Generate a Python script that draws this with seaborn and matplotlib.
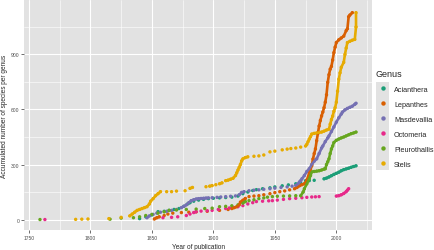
import pandas as pd
import matplotlib
matplotlib.use("Agg")
import matplotlib.pyplot as plt
from matplotlib.patches import Rectangle
from matplotlib.ticker import MultipleLocator
import seaborn as sns

# Accumulated species per genus
genera = ["Acianthera", "Lepanthes", "Masdevallia", "Octomeria", "Pleurothallis", "Stelis"]
colours = ["#1B9E77", "#D95F02", "#7570B3", "#E7298A", "#66A61E", "#E6AB02"]

acianthera_years = [1840, 1845, 1850, 1855, 1860, 1864, 1868, 1872, 1876, 1879, 1881, 1884, 1888,
                    1892, 1896, 1900, 1905, 1910, 1915, 1920, 1924, 1928, 1932, 1935, 1940, 1946,
                    1950, 1956, 1961, 1967, 1971, 1975, 1978, 1982, 1990, 1992, 1994, 1996, 1998,
                    2000, 2002, 2004, 2006, 2008, 2010, 2012, 2014, 2016]
acianthera_counts = [5, 15, 25, 43, 45, 50, 55, 60, 72, 85, 92, 100, 106,
                     110, 114, 116, 118, 120, 122, 128, 141, 150, 158, 163, 168, 173,
                     178, 184, 189, 195, 202, 212, 212, 214, 222, 226, 232, 239, 246,
                     252, 258, 266, 272, 276, 280, 285, 289, 293]

lepanthes_years = [1852, 1854, 1856, 1860, 1863, 1867, 1874, 1880, 1886, 1895, 1905, 1912, 1915,
                   1917, 1919, 1921, 1922, 1924, 1926, 1929, 1933, 1937, 1941, 1946, 1950, 1954,
                   1958, 1962, 1966, 1968, 1970, 1972, 1974, 1976, 1978, 1979, 1980, 1981, 1982,
                   1983, 1984, 1985, 1986, 1987, 1988, 1989, 1990, 1991, 1992, 1993, 1994, 1995,
                   1996, 1997, 1998, 1999, 2000, 2002, 2004, 2006, 2008, 2009, 2010, 2011, 2013]
lepanthes_counts = [3, 10, 15, 22, 30, 35, 38, 40, 42, 45, 50, 55, 60,
                    65, 70, 80, 95, 105, 115, 125, 128, 130, 135, 141, 147, 152,
                    156, 162, 168, 175, 184, 190, 195, 215, 255, 275, 293, 330, 360,
                    385, 430, 470, 510, 540, 565, 586, 610, 640, 680, 748, 790, 820,
                    835, 870, 910, 940, 965, 980, 990, 1000, 1030, 1040, 1106, 1115, 1128]

masdevallia_years = [1846, 1848, 1851, 1854, 1857, 1862, 1866, 1870, 1874, 1876, 1878, 1880, 1882,
                     1884, 1886, 1888, 1890, 1892, 1894, 1896, 1899, 1903, 1906, 1910, 1914, 1918,
                     1921, 1923, 1925, 1929, 1933, 1937, 1941, 1946, 1950, 1955, 1960, 1964, 1967,
                     1969, 1970, 1971, 1972, 1974, 1976, 1978, 1980, 1982, 1984, 1986, 1988, 1989,
                     1991, 1993, 1994, 1996, 1998, 2000, 2002, 2004, 2005, 2007, 2009, 2011, 2013,
                     2015, 2016]
masdevallia_counts = [10, 20, 28, 35, 40, 45, 50, 55, 65, 72, 80, 92, 103,
                      108, 112, 114, 115, 116, 117, 118, 119, 121, 123, 125, 127, 129,
                      135, 148, 152, 157, 160, 162, 165, 168, 171, 175, 178, 182, 186,
                      195, 205, 212, 222, 240, 262, 277, 300, 318, 331, 360, 390, 401,
                      425, 445, 456, 480, 505, 531, 555, 575, 586, 598, 606, 612, 618,
                      628, 634]

octomeria_years = [1763, 1859, 1866, 1871, 1878, 1881, 1884, 1886, 1890, 1895, 1899, 1904, 1910,
                   1913, 1916, 1920, 1924, 1928, 1932, 1935, 1940, 1945, 1948, 1952, 1957, 1962,
                   1967, 1972, 1976, 1980, 1983, 1986, 2000, 2002, 2004, 2006, 2008, 2009, 2010]
octomeria_counts = [0, 10, 12, 15, 22, 30, 38, 43, 46, 48, 50, 55, 60,
                    63, 66, 70, 76, 85, 92, 98, 100, 102, 103, 106, 110, 114,
                    116, 119, 121, 123, 124, 125, 128, 130, 135, 142, 152, 160, 168]

pleurothallis_years = [1759, 1816, 1825, 1835, 1840, 1845, 1850, 1855, 1860, 1864, 1870, 1878, 1886,
                       1893, 1899, 1905, 1910, 1915, 1920, 1924, 1926, 1929, 1933, 1937, 1941, 1944,
                       1948, 1952, 1957, 1962, 1967, 1971, 1973, 1974, 1976, 1978, 1979, 1980, 1982,
                       1984, 1986, 1988, 1990, 1991, 1992, 1993, 1994, 1995, 1996, 1997, 1998, 2000,
                       2002, 2004, 2006, 2008, 2010, 2012, 2014, 2016]
pleurothallis_counts = [0, 2, 8, 10, 15, 22, 28, 35, 42, 50, 52, 55, 57,
                        60, 62, 70, 72, 75, 80, 90, 98, 103, 108, 114, 118, 122,
                        125, 127, 128, 129, 130, 130, 150, 168, 195, 222, 240, 260, 262,
                        264, 266, 270, 275, 277, 300, 315, 331, 360, 385, 401, 420, 432,
                        439, 445, 450, 456, 462, 468, 472, 477]

stelis_years = [1788, 1793, 1798, 1815, 1825, 1832, 1834, 1836, 1838, 1840, 1842, 1844, 1846,
                1848, 1849, 1851, 1853, 1855, 1857, 1862, 1866, 1870, 1877, 1881, 1883, 1894,
                1897, 1899, 1902, 1905, 1907, 1910, 1912, 1914, 1916, 1918, 1919, 1920, 1921,
                1922, 1923, 1924, 1926, 1928, 1933, 1937, 1941, 1946, 1950, 1956, 1960, 1963,
                1967, 1971, 1975, 1976, 1977, 1978, 1979, 1980, 1982, 1984, 1986, 1988, 1990,
                1992, 1994, 1995, 1996, 1997, 1998, 1999, 2000, 2001, 2002, 2003, 2004, 2006,
                2007, 2008, 2009, 2011, 2013, 2015, 2016, 2016]
stelis_counts = [1, 2, 3, 5, 12, 20, 30, 40, 50, 55, 60, 65, 70,
                 85, 100, 114, 130, 141, 152, 152, 152, 155, 157, 170, 175, 179,
                 182, 185, 190, 195, 200, 212, 215, 220, 225, 240, 255, 270, 285,
                 300, 320, 331, 338, 342, 345, 347, 352, 369, 373, 380, 384, 387,
                 390, 395, 401, 410, 425, 439, 452, 466, 470, 472, 475, 477, 482,
                 488, 493, 520, 545, 564, 590, 610, 640, 700, 765, 800, 830, 857,
                 900, 935, 965, 972, 978, 982, 1050, 1128]

series = {
    "Acianthera": (acianthera_years, acianthera_counts),
    "Lepanthes": (lepanthes_years, lepanthes_counts),
    "Masdevallia": (masdevallia_years, masdevallia_counts),
    "Octomeria": (octomeria_years, octomeria_counts),
    "Pleurothallis": (pleurothallis_years, pleurothallis_counts),
    "Stelis": (stelis_years, stelis_counts),
}

frames = []
for name, (yrs, cnts) in series.items():
    part = pd.DataFrame({"Year": yrs, "Count": cnts, "Genus": name})
    # points published close together merge into a solid run
    part["run"] = name + (part["Year"].diff().fillna(99) > 2).cumsum().astype(str)
    frames.append(part)
data = pd.concat(frames, ignore_index=True)

palette = dict(zip(genera, colours))

sns.set_style("darkgrid", {"axes.facecolor": "#E2E2E2", "grid.color": "white"})
plt.rcParams["font.family"] = ["Liberation Sans", "DejaVu Sans"]

fig = plt.figure(figsize=(4.34, 2.51), dpi=100)
ax = fig.add_axes([24 / 434, 1 - 231 / 251, 348 / 434, 230 / 251])

sns.lineplot(data=data, x="Year", y="Count", hue="Genus", units="run", estimator=None,
             sort=False, palette=palette, hue_order=genera, linewidth=1.9, legend=False, ax=ax)
sns.scatterplot(data=data, x="Year", y="Count", hue="Genus", palette=palette, hue_order=genera,
                s=6, linewidth=0, ax=ax)

ax.set_xlim(1746, 2029)
ax.set_ylim(-57, 1197)
ax.xaxis.set_major_locator(MultipleLocator(50))
ax.xaxis.set_minor_locator(MultipleLocator(25))
ax.yaxis.set_major_locator(MultipleLocator(300))
ax.yaxis.set_minor_locator(MultipleLocator(150))
ax.grid(which="major", color="white", linewidth=0.8)
ax.grid(which="minor", color="white", linewidth=0.4)
ax.tick_params(which="major", labelsize=3.6, labelcolor="#4D4D4D", length=2, width=0.5,
               color="#333333", pad=1.5, left=True, bottom=True)
ax.tick_params(which="minor", length=0)
for s in ax.spines.values():
    s.set_visible(False)

ax.set_xlabel("Year of publication", fontsize=4.7, labelpad=2)
ax.set_ylabel("Accumulated number of species per genus", fontsize=4.7, labelpad=2)

sns.move_legend(ax, "upper left", bbox_to_anchor=(373 / 434, 1 - 67 / 251),
                bbox_transform=fig.transFigure, frameon=False, title="Genus",
                fontsize=5.2, title_fontsize=6.5, labelspacing=1.1, handletextpad=0.5,
                borderaxespad=0, markerscale=1.3)
leg = ax.get_legend()
leg._legend_box.align = "left"

# grey key backgrounds, as in the source theme (drawn beneath the axes and legend)
fig.patches.append(Rectangle((376 / 434, 1 - 171 / 251), 13 / 434, 88 / 251,
                             transform=fig.transFigure, facecolor="#E2E2E2",
                             edgecolor="none", zorder=-5))

fig.savefig("out.png", dpi=100)
